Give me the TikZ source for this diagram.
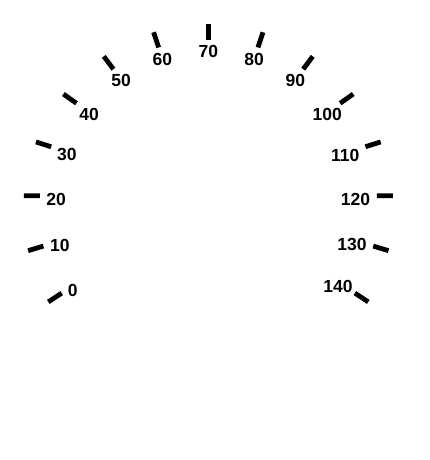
\documentclass[tikz,border=0pt]{standalone}
\usepackage{fontspec}
\setmainfont{Liberation Sans}
\usetikzlibrary{calc}
\begin{document}
\begin{tikzpicture}[x=1pt,y=1pt,
  tickmark/.style={line width=4.8pt},
  ticklabel/.style={font=\bfseries\fontsize{17.5}{17.5}\selectfont, inner sep=0pt}]
\useasboundingbox (0,0) rectangle (430,-460);
\coordinate (c) at (208.3,-209);
\coordinate (lc) at (208.3,-210.5);
\coordinate (p) at (208.3,-196.5);
\foreach \v in {0,10,...,140}{
  \pgfmathsetmacro{\a}{90+(70-\v)*12/7}
  \coordinate (m\v) at ([shift={(\a:177)}]c);
  \coordinate (i\v) at ($(m\v)!8pt!(p)$);
  \coordinate (o\v) at ($(m\v)!-8pt!(p)$);
  \draw[tickmark] (i\v) -- (o\v);
  \node[ticklabel, anchor=\a] (l\v) at ([shift={(\a:162.5 and 165)}]lc) {\v};
}
\end{tikzpicture}
\end{document}
